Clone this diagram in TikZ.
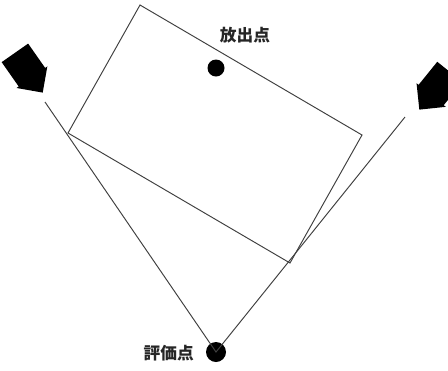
\documentclass[tikz,border=0pt]{standalone}
\usepackage{fontspec}
\newfontfamily\jpfont{Noto Sans CJK JP}
\usetikzlibrary{shapes.arrows}

\begin{document}
\begin{tikzpicture}[x=0.02cm, y=-0.02cm,
    spot/.style={circle, fill=black, inner sep=0pt},
    jplabel/.style={font=\jpfont\bfseries\fontsize{9.5}{11}\selectfont, text=black!85},
    ray/.style={draw=black!75, line width=0.55pt},
    wind/.style={single arrow, fill=black, inner sep=9pt, minimum height=23pt,
        single arrow head extend=1.5pt, anchor=tip}]
    \useasboundingbox (0,0) rectangle (448,370);
    % building corners
    \coordinate (ctop) at (140,5);
    \coordinate (cright) at (362,135);
    \coordinate (cbottom) at (290,263);
    \coordinate (cleft) at (68,133);
    \draw[ray] (ctop) -- (cright) -- (cbottom) -- (cleft) -- cycle;
    % release and evaluation points
    \node[spot, minimum size=0.34cm] (release) at (216,68) {};
    \node[jplabel] (releaselabel) at (245,35) {放出点};
    \node[spot, minimum size=0.4cm] (eval) at (216,352) {};
    \node[jplabel, anchor=east] (evallabel) at (200,353) {評価点};
    % wind directions
    \coordinate (lfree) at (45,102);
    \coordinate (rfree) at (405,117);
    \draw[ray] (lfree) -- (eval.center) -- (rfree);
    \node[wind, rotate=-55] (lwind) at (43,93) {};
    \node[wind, rotate=-129] (rwind) at (419,110) {};
\end{tikzpicture}
\end{document}
